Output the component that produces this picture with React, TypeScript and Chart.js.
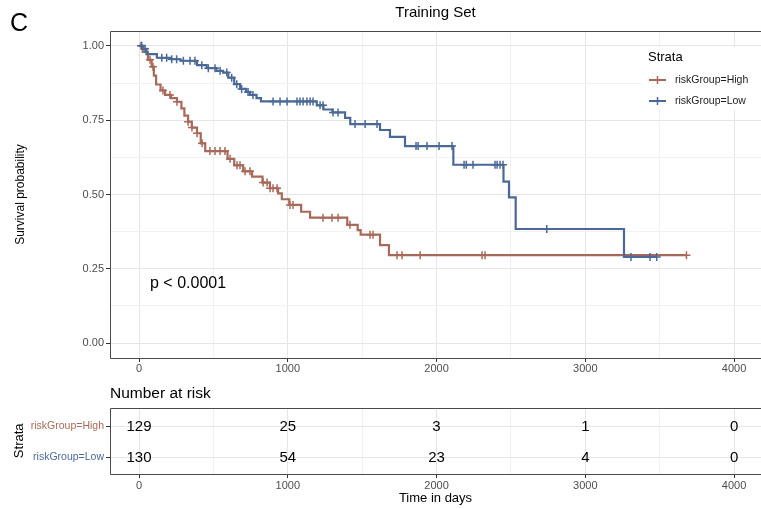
import React, { useEffect, useRef } from 'react';
import { Chart, registerables } from 'chart.js';

Chart.register(...registerables);

const FONT = "'Liberation Sans', Arial, Helvetica, sans-serif";
const HIGH_COLOR = '#A8695B';
const LOW_COLOR = '#4B6996';
const MAJOR_GRID = '#E6E6E6';
const MINOR_GRID = '#F1F1F1';
const BORDER = '#4A4A4A';
const TICK_TEXT = '#4D4D4D';
const TICK_MARK = '#333333';

const chartTitle = 'Training Set';
const panelLetter = 'C';
const yAxisTitle = 'Survival probability';
const xAxisTitle = 'Time in days';
const tableTitle = 'Number at risk';
const legendTitle = 'Strata';
const strataNames = ['riskGroup=High', 'riskGroup=Low'];
const pValueText = 'p < 0.0001';
const pValueX = 74;
const pValueY = 0.2;

// Kaplan-Meier step curve, high risk group (time in days, survival from that time on)
const highTimes = [0, 25, 60, 85, 100, 115, 145, 175, 215, 255, 285, 305, 330, 355, 390, 415, 445, 595, 640, 700, 760, 830, 880, 935, 960, 1010, 1090, 1150, 1400, 1470, 1490, 1620, 1680, 3680];
const highSurv = [1.0, 0.98, 0.953, 0.93, 0.9, 0.87, 0.85, 0.835, 0.824, 0.812, 0.79, 0.765, 0.745, 0.725, 0.706, 0.672, 0.646, 0.62, 0.598, 0.578, 0.56, 0.54, 0.521, 0.504, 0.484, 0.465, 0.442, 0.422, 0.398, 0.38, 0.365, 0.33, 0.296, 0.296];
const highCensorTimes = [13, 74, 94, 161, 208, 255, 330, 356, 390, 424, 477, 511, 545, 578, 612, 659, 679, 713, 746, 834, 861, 881, 901, 928, 1015, 1035, 1237, 1297, 1338, 1418, 1553, 1573, 1734, 1768, 1890, 2306, 2326, 3680];

// Kaplan-Meier step curve, low risk group
const lowTimes = [0, 25, 50, 120, 210, 280, 390, 455, 520, 565, 600, 640, 680, 720, 745, 790, 820, 1195, 1240, 1300, 1385, 1420, 1620, 1687, 1788, 2113, 2450, 2487, 2532, 3260, 3480];
const lowSurv = [1.0, 0.99, 0.972, 0.96, 0.955, 0.95, 0.935, 0.925, 0.916, 0.91, 0.893, 0.871, 0.855, 0.845, 0.835, 0.824, 0.813, 0.8, 0.786, 0.776, 0.758, 0.737, 0.717, 0.694, 0.663, 0.6, 0.543, 0.49, 0.384, 0.29, 0.29];
const lowCensorTimes = [18, 40, 153, 186, 220, 253, 298, 343, 376, 422, 466, 511, 545, 590, 623, 657, 690, 733, 766, 901, 948, 995, 1062, 1082, 1103, 1129, 1150, 1170, 1217, 1237, 1304, 1338, 1452, 1520, 1600, 1862, 1876, 1936, 2017, 2104, 2185, 2200, 2245, 2393, 2407, 2427, 2447, 2741, 3307, 3435, 3480];

const xMajorTicks = [0, 1000, 2000, 3000, 4000];
const xMinorTicks = [500, 1500, 2500, 3500];
const yMajorTicks = [0, 0.25, 0.5, 0.75, 1];
const yMinorTicks = [0.125, 0.375, 0.625, 0.875];

const riskTimes = [0, 1000, 2000, 3000, 4000];
const riskHigh = [129, 25, 3, 1, 0];
const riskLow = [130, 54, 23, 4, 0];
const riskRows = [riskHigh, riskLow];
const riskRowPos = [1, 0];

const X_MIN = -195;
const X_MAX = 4181;

function survAt(times: number[], surv: number[], t: number) {
  let s = surv[0];
  for (let i = 0; i < times.length; i++) if (times[i] <= t) s = surv[i];
  return s;
}

const isMajor = (list: number[], v: number) => list.some((m) => Math.abs(m - v) < 1e-9);

function makeXScale(extra: any, tickPad: number) {
  const all = [...xMajorTicks, ...xMinorTicks].sort((a, b) => a - b);
  return {
    type: 'linear',
    min: X_MIN,
    max: X_MAX,
    bounds: 'data',
    afterBuildTicks: (s: any) => {
      s.ticks = all.map((v) => ({ value: v }));
    },
    ticks: {
      autoSkip: false,
      maxRotation: 0,
      minRotation: 0,
      padding: tickPad,
      color: TICK_TEXT,
      font: { family: FONT, size: 11 },
      callback: (v: any) => (isMajor(xMajorTicks, v) ? String(v) : ''),
    },
    grid: {
      color: (c: any) => (c.tick && isMajor(xMajorTicks, c.tick.value) ? MAJOR_GRID : MINOR_GRID),
      tickColor: (c: any) => (c.tick && isMajor(xMajorTicks, c.tick.value) ? TICK_MARK : 'rgba(0,0,0,0)'),
      tickLength: 4,
      drawTicks: true,
      lineWidth: 1,
    },
    border: { display: false },
    ...extra,
  };
}

function drawPanelBorder(ctx: CanvasRenderingContext2D, a: any) {
  ctx.save();
  ctx.strokeStyle = BORDER;
  ctx.lineWidth = 1;
  ctx.beginPath();
  ctx.moveTo(a.right + 2, Math.round(a.top) + 0.5);
  ctx.lineTo(Math.round(a.left) + 0.5, Math.round(a.top) + 0.5);
  ctx.lineTo(Math.round(a.left) + 0.5, Math.round(a.bottom) + 0.5);
  ctx.lineTo(a.right + 2, Math.round(a.bottom) + 0.5);
  ctx.stroke();
  ctx.restore();
}

const mainDecor = {
  id: 'mainDecor',
  afterDraw(chart: any) {
    const { ctx, chartArea: a, scales } = chart;
    drawPanelBorder(ctx, a);
    ctx.save();
    ctx.fillStyle = '#000';
    ctx.font = `25px ${FONT}`;
    ctx.textAlign = 'left';
    ctx.textBaseline = 'alphabetic';
    ctx.fillText(panelLetter, 10, 31);

    ctx.font = `16px ${FONT}`;
    ctx.textBaseline = 'middle';
    ctx.fillText(pValueText, scales.x.getPixelForValue(pValueX), scales.y.getPixelForValue(pValueY));

    // legend inside panel
    const lx = a.right - 120;
    const ly = a.top + 16;
    ctx.fillStyle = '#fff';
    ctx.fillRect(lx, ly, 122, 63);
    ctx.fillStyle = '#000';
    ctx.font = `13px ${FONT}`;
    ctx.fillText(legendTitle, lx + 7, ly + 10);
    const colors = [HIGH_COLOR, LOW_COLOR];
    strataNames.forEach((name, i) => {
      const y = ly + 33 + i * 21;
      ctx.strokeStyle = colors[i];
      ctx.lineWidth = 2;
      ctx.beginPath();
      ctx.moveTo(lx + 8, y);
      ctx.lineTo(lx + 25, y);
      ctx.stroke();
      ctx.lineWidth = 1.5;
      ctx.beginPath();
      ctx.moveTo(lx + 16.5, y - 4);
      ctx.lineTo(lx + 16.5, y + 4);
      ctx.moveTo(lx + 12.5, y);
      ctx.lineTo(lx + 20.5, y);
      ctx.stroke();
      ctx.fillStyle = '#1A1A1A';
      ctx.font = `10.5px ${FONT}`;
      ctx.fillText(name, lx + 34, y);
    });
    ctx.restore();
  },
};

const tableDecor = {
  id: 'tableDecor',
  afterDatasetsDraw(chart: any) {
    const { ctx, chartArea: a } = chart;
    ctx.save();
    ctx.font = `15px ${FONT}`;
    ctx.fillStyle = '#000';
    ctx.textAlign = 'center';
    ctx.textBaseline = 'middle';
    chart.data.datasets.forEach((_ds: any, di: number) => {
      const meta = chart.getDatasetMeta(di);
      meta.data.forEach((el: any, i: number) => {
        ctx.fillText(String(riskRows[di][i]), el.x, el.y + 1);
      });
    });
    ctx.restore();
    drawPanelBorder(ctx, a);
  },
};

function mainConfig(): any {
  const line = (times: number[], surv: number[]) => times.map((t, i) => ({ x: t, y: surv[i] }));
  const censor = (ct: number[], times: number[], surv: number[]) => ct.map((t) => ({ x: t, y: survAt(times, surv, t) }));
  const allY = [...yMajorTicks, ...yMinorTicks].sort((a, b) => a - b);
  return {
    type: 'line',
    data: {
      datasets: [
        { label: strataNames[1] + ' censor', type: 'scatter', data: censor(lowCensorTimes, lowTimes, lowSurv), pointStyle: 'cross', pointRadius: 4, borderColor: LOW_COLOR, backgroundColor: LOW_COLOR, borderWidth: 1.5, order: 0 },
        { label: strataNames[1], data: line(lowTimes, lowSurv), stepped: 'before', borderColor: LOW_COLOR, borderWidth: 2.2, pointRadius: 0, fill: false, order: 1 },
        { label: strataNames[0] + ' censor', type: 'scatter', data: censor(highCensorTimes, highTimes, highSurv), pointStyle: 'cross', pointRadius: 4, borderColor: HIGH_COLOR, backgroundColor: HIGH_COLOR, borderWidth: 1.5, order: 2 },
        { label: strataNames[0], data: line(highTimes, highSurv), stepped: 'before', borderColor: HIGH_COLOR, borderWidth: 2.2, pointRadius: 0, fill: false, order: 3 },
      ],
    },
    options: {
      responsive: false,
      animation: false,
      devicePixelRatio: 1,
      layout: { padding: 0, autoPadding: false },
      plugins: {
        legend: { display: false },
        tooltip: { enabled: false },
        title: {
          display: true,
          text: chartTitle,
          fullSize: false,
          color: '#000',
          font: { family: FONT, size: 15, weight: 'normal' },
          padding: { top: 4, bottom: 9 },
        },
      },
      scales: {
        x: makeXScale(
          {
            afterFit: (s: any) => {
              s.height = 22;
            },
          },
          0,
        ),
        y: {
          type: 'linear',
          min: -0.05,
          max: 1.05,
          bounds: 'data',
          afterBuildTicks: (s: any) => {
            s.ticks = allY.map((v) => ({ value: v }));
          },
          afterFit: (s: any) => {
            s.width = 110;
          },
          ticks: {
            autoSkip: false,
            padding: 2,
            color: TICK_TEXT,
            font: { family: FONT, size: 11 },
            callback: (v: any) => (isMajor(yMajorTicks, v) ? Number(v).toFixed(2) : ''),
          },
          grid: {
            color: (c: any) => (c.tick && isMajor(yMajorTicks, c.tick.value) ? MAJOR_GRID : MINOR_GRID),
            tickColor: (c: any) => (c.tick && isMajor(yMajorTicks, c.tick.value) ? TICK_MARK : 'rgba(0,0,0,0)'),
            tickLength: 4,
            drawTicks: true,
            lineWidth: 1,
          },
          border: { display: false },
          title: {
            display: true,
            text: yAxisTitle,
            color: '#000',
            font: { family: FONT, size: 12 },
            padding: { top: 13, bottom: 0 },
          },
        },
      },
    },
    plugins: [mainDecor],
  };
}

function tableConfig(): any {
  return {
    type: 'scatter',
    data: {
      datasets: riskRows.map((row, ri) => ({
        label: strataNames[ri],
        data: riskTimes.map((t) => ({ x: t, y: riskRowPos[ri] })),
        pointRadius: 0,
        borderWidth: 0,
      })),
    },
    options: {
      responsive: false,
      animation: false,
      devicePixelRatio: 1,
      layout: { padding: 0, autoPadding: false },
      plugins: {
        legend: { display: false },
        tooltip: { enabled: false },
        title: {
          display: true,
          text: tableTitle,
          align: 'start',
          fullSize: false,
          color: '#000',
          font: { family: FONT, size: 15.5, weight: 'normal' },
          padding: { top: 4, bottom: 5 },
        },
      },
      scales: {
        x: makeXScale(
          {
            afterFit: (s: any) => {
              s.height = 35;
            },
            title: {
              display: true,
              text: xAxisTitle,
              color: '#000',
              font: { family: FONT, size: 13 },
              padding: { top: 0, bottom: 3 },
            },
          },
          1,
        ),
        y: {
          type: 'linear',
          min: -0.55,
          max: 1.6,
          bounds: 'data',
          afterBuildTicks: (s: any) => {
            s.ticks = riskRowPos.map((v) => ({ value: v }));
          },
          afterFit: (s: any) => {
            s.width = 110;
          },
          ticks: {
            autoSkip: false,
            padding: 2,
            font: { family: FONT, size: 10.5 },
            color: (c: any) => (c.tick && c.tick.value === 1 ? HIGH_COLOR : LOW_COLOR),
            callback: (v: any) => strataNames[riskRowPos.indexOf(Number(v))] ?? '',
          },
          grid: {
            color: MAJOR_GRID,
            tickColor: TICK_MARK,
            tickLength: 4,
            drawTicks: true,
            lineWidth: 1,
          },
          border: { display: false },
          title: {
            display: true,
            text: legendTitle,
            color: '#000',
            font: { family: FONT, size: 13 },
            padding: { top: 12, bottom: 0 },
          },
        },
      },
    },
    plugins: [tableDecor],
  };
}

export default function App() {
  const mainRef = useRef<HTMLCanvasElement>(null);
  const tableRef = useRef<HTMLCanvasElement>(null);

  useEffect(() => {
    const main = new Chart(mainRef.current as HTMLCanvasElement, mainConfig());
    const table = new Chart(tableRef.current as HTMLCanvasElement, tableConfig());
    return () => {
      main.destroy();
      table.destroy();
    };
  }, []);

  return (
    <div style={{ position: 'absolute', left: 0, top: 0, width: 761, height: 509, background: '#fff', overflow: 'hidden' }}>
      <canvas ref={mainRef} width={761} height={380} style={{ position: 'absolute', left: 0, top: 0, width: 761, height: 380 }} />
      <canvas ref={tableRef} width={761} height={129} style={{ position: 'absolute', left: 0, top: 380, width: 761, height: 129 }} />
    </div>
  );
}
